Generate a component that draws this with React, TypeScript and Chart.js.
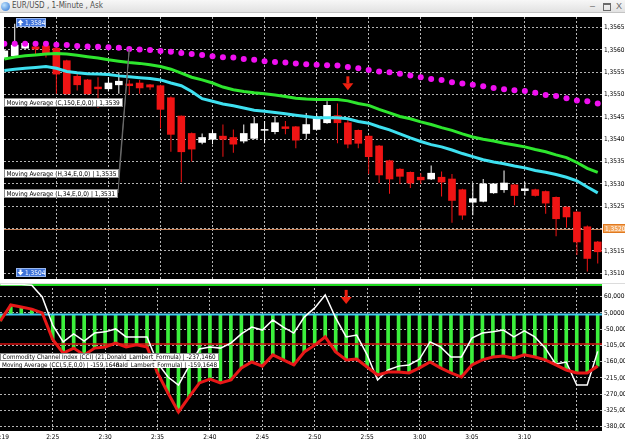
import React, { useEffect, useRef } from 'react';
import { Chart, registerables } from 'chart.js';

Chart.register(...registerables);

const FONT = "'Liberation Sans Narrow','Arial Narrow','DejaVu Sans Condensed','Liberation Sans',Arial,sans-serif";
const FS = 6.5;

// ---- data: one entry per 1-minute bar (bar 0 = 2:20) ----
const openP = [1.35583,1.35587,1.35604,1.35607,1.35609,1.35604,1.35576,1.35541,1.35533,1.35517,
  1.35513,1.35522,1.35524,1.35526,1.35522,1.35520,1.35493,1.35452,1.35413,1.35393,
  1.35400,1.35407,1.35404,1.35396,1.35402,1.35420,1.35417,1.35428,1.35428,1.35413,
  1.35422,1.35437,1.35453,1.35437,1.35420,1.35407,1.35385,1.35352,1.35333,1.35326,
  1.35315,1.35311,1.35315,1.35311,1.35287,1.35259,1.35261,1.35280,1.35287,1.35298,
  1.35285,1.35287,1.35283,1.35270,1.35248,1.35237,1.35204,1.35170];
const highP = [1.35600,1.35659,1.35617,1.35611,1.35615,1.35607,1.35578,1.35548,1.35535,1.35539,
  1.35539,1.35550,1.35533,1.35533,1.35524,1.35522,1.35496,1.35453,1.35415,1.35413,
  1.35420,1.35433,1.35422,1.35433,1.35450,1.35441,1.35452,1.35441,1.35430,1.35459,
  1.35459,1.35485,1.35480,1.35448,1.35422,1.35409,1.35387,1.35354,1.35335,1.35328,
  1.35324,1.35341,1.35328,1.35322,1.35289,1.35300,1.35311,1.35302,1.35330,1.35300,
  1.35304,1.35289,1.35285,1.35272,1.35250,1.35239,1.35207,1.35172];
const lowP = [1.35580,1.35585,1.35602,1.35589,1.35583,1.35502,1.35500,1.35509,1.35500,1.35470,
  1.35507,1.35502,1.35500,1.35502,1.35511,1.35424,1.35372,1.35304,1.35350,1.35389,
  1.35389,1.35361,1.35370,1.35391,1.35400,1.35391,1.35411,1.35411,1.35380,1.35400,
  1.35420,1.35435,1.35391,1.35380,1.35380,1.35322,1.35302,1.35278,1.35300,1.35291,
  1.35300,1.35309,1.35272,1.35213,1.35220,1.35230,1.35259,1.35278,1.35280,1.35252,
  1.35274,1.35272,1.35233,1.35183,1.35202,1.35141,1.35104,1.35122];
const closeP = [1.35598,1.35611,1.35615,1.35602,1.35593,1.35546,1.35502,1.35522,1.35502,1.35513,
  1.35526,1.35530,1.35520,1.35515,1.35517,1.35467,1.35411,1.35372,1.35378,1.35404,
  1.35413,1.35400,1.35389,1.35413,1.35435,1.35422,1.35437,1.35424,1.35398,1.35433,
  1.35450,1.35476,1.35437,1.35389,1.35391,1.35361,1.35320,1.35311,1.35317,1.35302,
  1.35309,1.35324,1.35304,1.35263,1.35230,1.35267,1.35300,1.35300,1.35302,1.35274,
  1.35289,1.35274,1.35257,1.35222,1.35226,1.35170,1.35133,1.35148];
const sarP = [1.35614,1.35614,1.35614,1.35614,1.35614,1.35612,1.35611,1.35609,1.35608,1.35607,
  1.35606,1.35605,1.35602,1.35601,1.35600,1.35598,1.35596,1.35593,1.35591,1.35589,
  1.35586,1.35584,1.35583,1.35580,1.35578,1.35575,1.35573,1.35572,1.35570,1.35568,
  1.35567,1.35566,1.35565,1.35562,1.35559,1.35555,1.35552,1.35550,1.35547,1.35543,
  1.35539,1.35535,1.35533,1.35528,1.35525,1.35522,1.35519,1.35515,1.35512,1.35510,
  1.35508,1.35504,1.35499,1.35497,1.35492,1.35487,1.35485,1.35480];
const ma150 = [1.35580,1.35584,1.35587,1.35589,1.35591,1.35592,1.35591,1.35588,1.35585,1.35582,
  1.35578,1.35575,1.35572,1.35570,1.35567,1.35563,1.35557,1.35548,1.35539,1.35533,
  1.35526,1.35517,1.35511,1.35507,1.35504,1.35502,1.35499,1.35496,1.35492,1.35490,
  1.35489,1.35489,1.35489,1.35486,1.35480,1.35476,1.35467,1.35459,1.35451,1.35446,
  1.35439,1.35433,1.35426,1.35420,1.35412,1.35405,1.35400,1.35396,1.35391,1.35387,
  1.35383,1.35377,1.35372,1.35365,1.35359,1.35348,1.35335,1.35326];
const ema34 = [1.35554,1.35557,1.35559,1.35561,1.35563,1.35559,1.35552,1.35549,1.35547,1.35546,
  1.35545,1.35542,1.35540,1.35538,1.35536,1.35533,1.35526,1.35520,1.35507,1.35491,
  1.35485,1.35479,1.35475,1.35470,1.35465,1.35463,1.35460,1.35457,1.35454,1.35451,
  1.35448,1.35448,1.35448,1.35446,1.35440,1.35436,1.35428,1.35421,1.35412,1.35403,
  1.35395,1.35388,1.35383,1.35376,1.35368,1.35361,1.35354,1.35349,1.35345,1.35340,
  1.35336,1.35330,1.35326,1.35321,1.35315,1.35307,1.35293,1.35280];
const cci = [101,101,101,99,59,-36,-93,-66,-90,-63,
  -59,-49,-76,-76,-76,-164,-212,-239,-175,-117,
  -110,-114,-97,-66,-43,-53,-19,-43,-63,-9,
  22,66,-12,-76,-70,-137,-222,-188,-175,-171,
  -151,-93,-110,-144,-144,-80,-63,-59,-53,-76,
  -56,-76,-114,-168,-161,-239,-239,-125];
const cciMa = [-22,32,25,18,5,-85,-131,-114,-137,-114,
  -110,-97,-110,-103,-110,-198,-266,-330,-280,-232,
  -219,-232,-222,-181,-161,-175,-137,-154,-171,-127,
  -104,-76,-127,-154,-151,-178,-205,-195,-195,-198,
  -181,-161,-181,-198,-212,-171,-154,-144,-141,-148,
  -137,-144,-154,-171,-188,-198,-198,-175];

const priceTicks = [1.3510,1.3515,1.3520,1.3525,1.3530,1.3535,1.3540,1.3545,1.3550,1.3555,1.3560,1.3565];
const cciTicks = [60,5,-50,-105,-160,-215,-270,-325,-380];
const cciLevels = [100, 0, -100];
const timeTickPos = [0.2,5,10,15,20,25,30,35,40,45,50,55];
const timeTickLabels = ['2:19','2:25','2:30','2:35','2:40','2:45','2:50','2:55','3:00','3:05','3:10',''];
const currentPrice = 1.3520;
const highTag = '1,3584';
const lowTag = '1,3504';
const arrowBars = [33];
const arrowPrice = [1.35541];
const arrowCci = [83];
const connectorBar = 12;
const maLabels = ['Moving Average (C,150,E,0,0) | 1,3539','Moving Average (H,34,E,0,0) | 1,3535','Moving Average (L,34,E,0,0) | 1,3531'];
const cciLabel = 'Commodity Channel Index (CCI) (21,Donald_Lambert_Formula) | -237,1460';
const cciMaLabel = 'Moving Average (CCI,5,E,0,0) | -159,1648';
const cciMaLabel2 = 'nald_Lambert_Formula) | -159,1648';

const X_MIN = -0.03, X_MAX = 57.41;
const PRICE_MIN = 1.35087, PRICE_MAX = 1.356739;
const CCI_MIN = -394.6, CCI_MAX = 103;

// ---- styles ----
const GRID = '#b4b4b4';
const BULL = '#ffffff';
const BEAR = '#f01414';
const SAR = '#f010f0';
const GREEN = '#2ee62e';
const CYAN = '#3ee0f0';
const HIST = '#3cf03c';
const CCI_MA_COLOR = '#e81818';
const LEVEL_COLORS = ['#20d820', '#40c8f0', '#d81010'];
const ARROW = '#ee2010';
const PRICE_LINE = '#c8825a';

const fmt = (v: number) => v.toFixed(4).replace('.', ',');
const candleColor = (k: number) => (closeP[k] >= openP[k] ? BULL : BEAR);

const bgPlugin = {
  id: 'bg',
  beforeDraw(chart: any) {
    const { ctx, chartArea: a, width, height } = chart;
    ctx.save();
    ctx.fillStyle = '#ffffff';
    ctx.fillRect(0, 0, width, height);
    ctx.fillStyle = '#000000';
    ctx.fillRect(a.left, a.top, a.right - a.left, a.bottom - a.top);
    ctx.restore();
  },
};

function drawArrow(ctx: any, x: number, yTop: number) {
  ctx.save();
  ctx.fillStyle = ARROW;
  ctx.fillRect(x - 1.5, yTop, 3, 7);
  ctx.beginPath();
  ctx.moveTo(x - 5.5, yTop + 7);
  ctx.lineTo(x + 5.5, yTop + 7);
  ctx.lineTo(x, yTop + 14);
  ctx.closePath();
  ctx.fill();
  ctx.restore();
}

function drawTag(ctx: any, text: string, x: number, yTop: number, h: number, fill: string, stroke: string | null, color: string, size: number) {
  ctx.save();
  ctx.font = `${size}px ${FONT}`;
  const w = Math.ceil(ctx.measureText(text).width + 5);
  ctx.fillStyle = fill;
  ctx.fillRect(x, yTop, w, h);
  if (stroke) {
    ctx.strokeStyle = stroke;
    ctx.lineWidth = 1;
    ctx.strokeRect(x + 0.5, yTop + 0.5, w - 1, h - 1);
  }
  ctx.fillStyle = color;
  ctx.textBaseline = 'middle';
  ctx.fillText(text, x + 2.5, yTop + h / 2 + 0.5);
  ctx.restore();
  return w;
}

function drawPriceTag(ctx: any, text: string, x: number, yc: number, up: boolean) {
  const h = 9, w = 30, yTop = Math.round(yc - h / 2);
  ctx.save();
  ctx.fillStyle = '#3d72d9';
  ctx.fillRect(x, yTop, w, h);
  ctx.strokeStyle = '#9ab8ee';
  ctx.lineWidth = 1;
  ctx.strokeRect(x + 0.5, yTop + 0.5, w - 1, h - 1);
  ctx.fillStyle = '#ffffff';
  ctx.beginPath();
  if (up) {
    ctx.moveTo(x + 4.5, yTop + 1.5); ctx.lineTo(x + 1.5, yTop + 5); ctx.lineTo(x + 7.5, yTop + 5);
  } else {
    ctx.moveTo(x + 4.5, yTop + 7.5); ctx.lineTo(x + 1.5, yTop + 4); ctx.lineTo(x + 7.5, yTop + 4);
  }
  ctx.closePath();
  ctx.fill();
  ctx.fillRect(x + 3.5, up ? yTop + 5 : yTop + 1.5, 2, 2.5);
  ctx.font = `${FS}px ${FONT}`;
  ctx.textBaseline = 'middle';
  ctx.fillText(text, x + 9, yTop + h / 2 + 0.5);
  ctx.restore();
}

const topOverlay = {
  id: 'topOverlay',
  beforeDatasetsDraw(chart: any) {
    const { ctx, chartArea: a, scales } = chart;
    const y = Math.round(scales.y.getPixelForValue(currentPrice)) + 0.5;
    ctx.save();
    ctx.strokeStyle = PRICE_LINE;
    ctx.lineWidth = 1;
    ctx.beginPath();
    ctx.moveTo(a.left, y);
    ctx.lineTo(a.right, y);
    ctx.stroke();
    ctx.restore();
  },
  afterDatasetsDraw(chart: any) {
    const { ctx, chartArea: a } = chart;
    const xs = chart.scales.x, ys = chart.scales.y;
    ctx.save();
    ctx.beginPath();
    ctx.rect(a.left, a.top, a.right - a.left, a.bottom - a.top);
    ctx.clip();
    arrowBars.forEach((k, j) => drawArrow(ctx, xs.getPixelForValue(k), ys.getPixelForValue(arrowPrice[j])));
    ctx.font = `${FS}px ${FONT}`;
    const tops = [81, 152, 172];
    const widths = maLabels.map((t) => Math.ceil(ctx.measureText(t).width + 5));
    const px = xs.getPixelForValue(connectorBar), py = ys.getPixelForValue(sarP[connectorBar]);
    ctx.strokeStyle = '#6a6a6a';
    ctx.lineWidth = 1;
    [1, 2].forEach((i) => {
      ctx.beginPath();
      ctx.moveTo(a.left + widths[i], a.top + tops[i] + 4);
      ctx.lineTo(px, py);
      ctx.stroke();
    });
    maLabels.forEach((t, i) => drawTag(ctx, t, a.left, a.top + tops[i], 9, '#ffffff', '#8a8a8a', '#000000', FS));
    const hiK = highP.indexOf(Math.max(...highP));
    const loK = lowP.indexOf(Math.min(...lowP));
    drawPriceTag(ctx, highTag, a.left + 12, ys.getPixelForValue(highP[hiK]) - 1, true);
    drawPriceTag(ctx, lowTag, a.left + 12, ys.getPixelForValue(lowP[loK]) + 1, false);
    ctx.restore();
  },
  afterDraw(chart: any) {
    const { ctx, chartArea: a } = chart;
    const y = chart.scales.y.getPixelForValue(currentPrice);
    ctx.save();
    ctx.fillStyle = '#f3a65e';
    ctx.fillRect(a.right + 1, Math.round(y - 4.5), 24, 9);
    ctx.strokeStyle = '#e07a20';
    ctx.strokeRect(a.right + 1.5, Math.round(y - 4.5) + 0.5, 24, 8);
    ctx.fillStyle = '#ffffff';
    ctx.font = `${FS}px ${FONT}`;
    ctx.textBaseline = 'middle';
    ctx.fillText(fmt(currentPrice), a.right + 3, y + 0.5);
    ctx.restore();
  },
};

const bottomOverlay = {
  id: 'bottomOverlay',
  afterDatasetsDraw(chart: any) {
    const { ctx, chartArea: a } = chart;
    const xs = chart.scales.x, ys = chart.scales.y;
    ctx.save();
    ctx.beginPath();
    ctx.rect(a.left, a.top, a.right - a.left, a.bottom - a.top);
    ctx.clip();
    arrowBars.forEach((k, j) => drawArrow(ctx, xs.getPixelForValue(k), ys.getPixelForValue(arrowCci[j])));
    const w = drawTag(ctx, cciLabel, a.left, a.top + 69, 8, '#ffffff', '#8a8a8a', '#000000', 6.3);
    ctx.fillStyle = '#ffffff';
    ctx.fillRect(a.left, a.top + 77, w, 7);
    ctx.font = `6.3px ${FONT}`;
    ctx.textBaseline = 'middle';
    ctx.fillStyle = '#000000';
    ctx.fillText(cciMaLabel, a.left + 2, a.top + 81);
    ctx.textAlign = 'right';
    ctx.fillText(cciMaLabel2, a.left + w - 2, a.top + 81);
    ctx.restore();
  },
};

const gridCommon = { color: GRID, drawTicks: false, lineWidth: 1, offset: false };
const borderCommon = { display: false, dash: [2, 2] };
const tickFont = { family: FONT, size: FS };

function topConfig(): any {
  const xy = (arr: number[]) => arr.map((v, k) => ({ x: k, y: v }));
  return {
    type: 'bar',
    data: {
      datasets: [
        { type: 'line', label: 'SAR', data: xy(sarP), showLine: false, pointRadius: 3, pointBackgroundColor: SAR, pointBorderWidth: 0, order: 0 },
        { type: 'line', label: 'MA H/L 34', data: xy(ema34), borderColor: CYAN, borderWidth: 3, pointRadius: 0, tension: 0, order: 1 },
        { type: 'line', label: 'MA C 150', data: xy(ma150), borderColor: GREEN, borderWidth: 3, pointRadius: 0, tension: 0, order: 2 },
        { type: 'bar', label: 'body', data: openP.map((o, k) => ({ x: k, y: [o, closeP[k]] })), backgroundColor: openP.map((_, k) => candleColor(k)), barThickness: 7, grouped: false, borderWidth: 0, order: 3 },
        { type: 'bar', label: 'wick', data: highP.map((h, k) => ({ x: k, y: [lowP[k], h] })), backgroundColor: openP.map((_, k) => candleColor(k)), barThickness: 1, grouped: false, borderWidth: 0, inflateAmount: 0, order: 4 },
      ],
    },
    options: {
      responsive: false,
      animation: false,
      events: [],
      layout: { padding: 0 },
      plugins: { legend: { display: false }, tooltip: { enabled: false } },
      scales: {
        x: {
          type: 'linear', min: X_MIN, max: X_MAX, offset: false,
          afterBuildTicks: (s: any) => { s.ticks = timeTickPos.filter((v) => v >= 1).map((v) => ({ value: v })); },
          ticks: { display: false },
          grid: gridCommon,
          border: borderCommon,
          afterFit: (s: any) => { s.height = 0; s.paddingLeft = 0; s.paddingRight = 0; },
        },
        y: {
          type: 'linear', position: 'right', min: PRICE_MIN, max: PRICE_MAX, beginAtZero: false,
          afterBuildTicks: (s: any) => { s.ticks = priceTicks.map((v) => ({ value: v })); },
          ticks: { font: tickFont, color: '#000000', padding: 2, autoSkip: false, callback: (v: number) => fmt(v) },
          grid: gridCommon,
          border: borderCommon,
          afterFit: (s: any) => { s.width = 23; s.paddingTop = 0; s.paddingBottom = 0; },
        },
      },
    },
    plugins: [bgPlugin, topOverlay],
  };
}

function bottomConfig(): any {
  const xy = (arr: number[]) => arr.map((v, k) => ({ x: k, y: v }));
  const levelSets = cciLevels.map((lv, i) => ({
    type: 'line', label: 'level ' + lv,
    data: [{ x: X_MIN, y: lv }, { x: X_MAX, y: lv }],
    borderColor: LEVEL_COLORS[i], borderWidth: i === 2 ? 1.5 : 2, pointRadius: 0, order: 2,
  }));
  return {
    type: 'bar',
    data: {
      datasets: [
        { type: 'line', label: 'CCI MA', data: xy(cciMa), borderColor: CCI_MA_COLOR, borderWidth: 3, pointRadius: 0, tension: 0, order: 0 },
        { type: 'line', label: 'CCI', data: xy(cci), borderColor: '#ffffff', borderWidth: 1.5, pointRadius: 0, tension: 0, order: 1 },
        ...levelSets,
        { type: 'bar', label: 'hist', data: xy(cciMa), backgroundColor: HIST, barThickness: 3, grouped: false, borderWidth: 0, order: 3 },
      ],
    },
    options: {
      responsive: false,
      animation: false,
      events: [],
      layout: { padding: 0 },
      plugins: { legend: { display: false }, tooltip: { enabled: false } },
      scales: {
        x: {
          type: 'linear', min: X_MIN, max: X_MAX, offset: false,
          afterBuildTicks: (s: any) => { s.ticks = timeTickPos.map((v) => ({ value: v })); },
          ticks: {
            font: { family: FONT, size: FS }, color: '#000000', padding: 2, autoSkip: false, maxRotation: 0,
            callback: (v: number) => { const i = timeTickPos.indexOf(v); return i >= 0 ? timeTickLabels[i] : ''; },
          },
          grid: { ...gridCommon, color: (c: any) => (c.tick && c.tick.value < 1 ? 'rgba(0,0,0,0)' : GRID) },
          border: borderCommon,
          afterFit: (s: any) => { s.height = 14; s.paddingLeft = 0; s.paddingRight = 0; },
        },
        y: {
          type: 'linear', position: 'right', min: CCI_MIN, max: CCI_MAX, beginAtZero: false,
          afterBuildTicks: (s: any) => { s.ticks = cciTicks.map((v) => ({ value: v })); },
          ticks: { font: tickFont, color: '#000000', padding: 2, autoSkip: false, callback: (v: number) => fmt(v) },
          grid: gridCommon,
          border: borderCommon,
          afterFit: (s: any) => { s.width = 23; s.paddingTop = 0; s.paddingBottom = 0; },
        },
      },
    },
    plugins: [bgPlugin, bottomOverlay],
  };
}

export default function App() {
  const topRef = useRef<HTMLCanvasElement>(null);
  const botRef = useRef<HTMLCanvasElement>(null);
  useEffect(() => {
    const c1 = new Chart(topRef.current as HTMLCanvasElement, topConfig());
    const c2 = new Chart(botRef.current as HTMLCanvasElement, bottomConfig());
    return () => { c1.destroy(); c2.destroy(); };
  }, []);
  const btn: any = { position: 'absolute', top: 0, fontSize: 9, lineHeight: '12px', color: '#6a6a6a', fontFamily: 'Liberation Sans, Arial, sans-serif' };
  return (
    <div style={{ position: 'fixed', left: 0, top: 0, width: 625, height: 445, background: '#ffffff', overflow: 'hidden' }}>
      <div style={{ position: 'absolute', left: 0, top: 0, width: 625, height: 13, background: 'linear-gradient(#f7f7f7, #e2e2e2)', boxSizing: 'border-box', borderBottom: '1px solid #c4c4c4' }}>
        <div style={{ position: 'absolute', left: 1, top: 2, width: 9, height: 9, borderRadius: '50%', background: 'radial-gradient(circle at 35% 35%, #bfe4ff, #2a6fd0)' }} />
        <span style={{ position: 'absolute', left: 12, top: 0, fontSize: 8, lineHeight: '12px', color: '#505050', fontFamily: FONT, whiteSpace: 'nowrap' }}>EUR/USD , 1-Minute , Ask</span>
        <span style={{ ...btn, left: 590 }}>–</span>
        <div style={{ position: 'absolute', left: 603, top: 3, width: 6, height: 5, border: '1px solid #6a6a6a', borderTopWidth: 2 }} />
        <span style={{ ...btn, left: 616 }}>X</span>
      </div>
      <canvas ref={topRef} width={625} height={270} style={{ position: 'absolute', left: 0, top: 13, width: 625, height: 270 }} />
      <div style={{ position: 'absolute', left: 0, top: 283, width: 625, height: 1, background: '#dcdcdc' }} />
      <canvas ref={botRef} width={625} height={161} style={{ position: 'absolute', left: 0, top: 284, width: 625, height: 161 }} />
    </div>
  );
}
